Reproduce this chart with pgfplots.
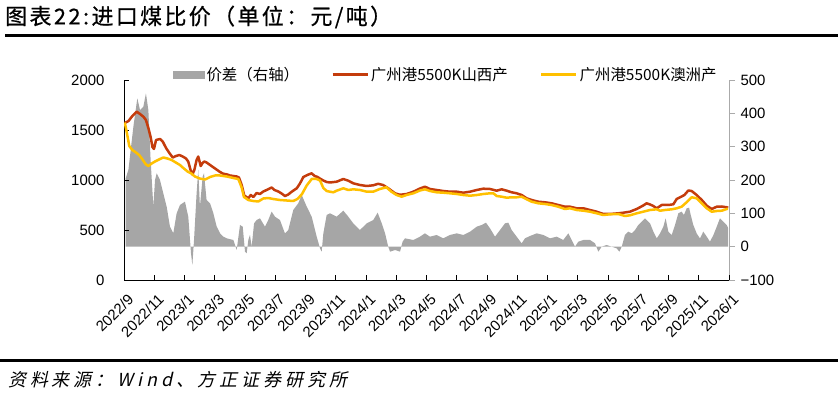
\documentclass[border=0pt]{standalone}
\usepackage{pgfplots}
\pgfplotsset{compat=1.18}
\usepackage{fontspec}
\setmainfont{Liberation Sans}
\newfontfamily\cjk{Noto Sans CJK SC}
\newfontfamily\cjktitle[FakeBold=0.6,LetterSpace=11]{Noto Sans CJK SC}
\newfontfamily\cjksl[FakeSlant=0.22,LetterSpace=22]{Noto Sans CJK SC}
\definecolor{redc}{RGB}{196,60,12}
\definecolor{yelc}{RGB}{255,192,0}
\definecolor{grayc}{RGB}{166,166,166}
\definecolor{axgray}{RGB}{170,170,170}
\begin{document}
\begin{tikzpicture}
\path[use as bounding box] (0,0) rectangle (838bp,398bp);
\node[anchor=west, inner sep=0] at (5bp,381bp) {\cjktitle\fontsize{22}{25}\selectfont 图表22:进口煤比价（单位：元/吨）};
\draw[line width=3.5bp] (5bp,362.5bp) -- (838bp,362.5bp);
\draw[line width=3.5bp] (0bp,37.5bp) -- (838bp,37.5bp);
\node[anchor=west, inner sep=0] at (8bp,18bp) {\cjksl\fontsize{18}{21}\selectfont 资料来源：Wind、方正证券研究所};

% right axis: price difference
\begin{axis}[at={(124bp,118bp)}, anchor=south west, scale only axis,
  width=605bp, height=200bp,
  xmin=0, xmax=40, ymin=-100, ymax=500,
  axis x line=none, axis y line*=right,
  ytick={-100,0,100,200,300,400,500},
  yticklabels={−100,0,100,200,300,400,500},
  tick align=outside, major tick length=6bp,
  y axis line style={draw=axgray, line width=0.8bp},
  ytick style={draw=axgray, line width=0.8bp},
  yticklabel style={font=\fontsize{15}{18}\selectfont, xshift=2bp},
]
\addplot[draw=none, fill=grayc] coordinates {
(0.10,0) (0.11,205) (0.29,230) (0.62,360) (0.88,445) (1.06,410) (1.28,420) (1.45,460) (1.61,410) (1.76,260) (1.94,120) (2.05,200) (2.16,220) (2.38,200) (2.60,160) (2.82,120) (3.04,60) (3.26,40) (3.48,100) (3.70,125) (4.03,135) (4.25,90) (4.43,-20) (4.52,-55) (4.63,20) (4.80,160) (4.91,230) (5.02,120) (5.20,210) (5.29,220) (5.46,140) (5.69,130) (5.91,100) (6.13,60) (6.35,40) (6.57,30) (6.79,25) (7.23,20) (7.45,-10) (7.67,65) (7.85,60) (8.00,-15) (8.11,-20) (8.22,20) (8.33,35) (8.44,0) (8.60,70) (8.77,80) (8.99,85) (9.32,60) (9.54,80) (9.76,105) (9.98,90) (10.31,80) (10.64,40) (10.86,50) (11.19,110) (11.52,130) (11.75,155) (12.08,120) (12.41,90) (12.74,30) (12.96,-5) (13.07,-15) (13.18,40) (13.40,95) (13.62,100) (14.06,90) (14.50,108) (14.83,90) (15.16,70) (15.60,50) (16.05,70) (16.48,80) (16.77,102) (17.04,70) (17.26,40) (17.47,0) (17.59,-15) (17.92,-10) (18.25,-15) (18.42,15) (18.58,25) (19.13,20) (19.57,30) (19.90,40) (20.23,30) (20.67,35) (21.11,25) (21.55,35) (22.00,40) (22.43,35) (22.88,45) (23.32,60) (23.65,65) (23.93,72) (24.20,55) (24.53,30) (24.86,50) (25.19,70) (25.41,72) (25.63,50) (25.96,30) (26.29,10) (26.51,25) (26.84,32) (27.29,40) (27.72,35) (28.17,25) (28.61,30) (29.04,20) (29.38,40) (29.60,20) (29.82,0) (30.04,15) (30.37,20) (30.81,20) (31.14,10) (31.36,-15) (31.58,0) (31.91,5) (32.24,0) (32.57,-5) (32.75,-15) (32.91,0) (33.12,35) (33.34,45) (33.57,40) (33.79,50) (34.00,65) (34.45,85) (34.78,70) (35.00,45) (35.22,25) (35.44,40) (35.66,60) (35.81,85) (35.99,45) (36.21,35) (36.43,65) (36.65,100) (36.87,105) (37.02,95) (37.20,115) (37.36,117) (37.47,95) (37.64,65) (37.86,40) (38.08,25) (38.30,45) (38.53,30) (38.74,15) (38.97,35) (39.19,60) (39.40,85) (39.62,75) (39.85,65) (39.95,55)
} \closedcycle;
\end{axis}

% left axis: prices
\begin{axis}[at={(124bp,118bp)}, anchor=south west, scale only axis,
  width=605bp, height=200bp,
  xmin=0, xmax=40, ymin=0, ymax=2000,
  axis x line*=bottom, axis y line*=left,
  xtick={0,2,...,40},
  xticklabels={2022/9,2022/11,2023/1,2023/3,2023/5,2023/7,2023/9,2023/11,2024/1,2024/3,2024/5,2024/7,2024/9,2024/11,2025/1,2025/3,2025/5,2025/7,2025/9,2025/11,2026/1},
  ytick={0,500,1000,1500,2000},
  tick align=inside, major tick length=5bp,
  axis line style={line width=0.9bp},
  tick style={black, line width=0.8bp},
  /pgf/number format/assume math mode=true,
  /pgf/number format/1000 sep={},
  xticklabel style={rotate=45, anchor=north east, inner sep=1bp, xshift=-6bp, yshift=-10bp, font=\fontsize{15}{17}\selectfont},
  yticklabel style={font=\fontsize{15}{18}\selectfont, xshift=-16bp},
  legend style={at={(0.532,1.027)}, anchor=center, draw=none, fill=none,
    font=\cjk\fontsize{15.5}{17}\selectfont, inner sep=0pt,
    /tikz/every even column/.append style={column sep=30bp}},
  legend columns=3,
]
\addlegendimage{legend image code/.code={\fill[grayc] (0bp,-3.5bp) rectangle (31bp,3.5bp);}}
\addlegendentry{价差（右轴）}
\addplot[redc, line width=2.5bp, line join=round,
  legend image code/.code={\draw[redc,line width=2.8bp] (0bp,0bp) -- (35bp,0bp);}] coordinates {
(0.05,1570) (0.30,1590) (0.55,1640) (0.84,1683) (1.06,1660) (1.30,1630) (1.45,1600) (1.61,1520) (1.76,1430) (1.88,1330) (1.98,1310) (2.12,1400) (2.38,1410) (2.56,1385) (2.78,1320) (3.00,1270) (3.22,1225) (3.44,1240) (3.66,1250) (3.88,1235) (4.10,1215) (4.25,1183) (4.40,1100) (4.52,1055) (4.65,1100) (4.80,1200) (4.91,1235) (5.07,1140) (5.20,1170) (5.31,1185) (5.46,1175) (5.69,1150) (6.02,1115) (6.35,1080) (6.57,1062) (6.79,1057) (7.01,1045) (7.23,1040) (7.45,1035) (7.60,1025) (7.78,950) (7.95,845) (8.22,817) (8.38,850) (8.55,830) (8.77,870) (8.99,860) (9.21,885) (9.43,900) (9.76,925) (9.95,900) (10.20,885) (10.42,865) (10.64,840) (10.86,855) (11.09,883) (11.42,917) (11.64,967) (11.86,1030) (12.12,1050) (12.41,1067) (12.60,1040) (12.80,1030) (13.00,1010) (13.18,995) (13.40,980) (13.62,975) (14.06,983) (14.50,1010) (14.83,993) (15.16,967) (15.60,950) (16.05,940) (16.48,947) (16.80,962) (17.13,950) (17.47,917) (17.92,867) (18.25,852) (18.68,860) (19.13,883) (19.57,915) (19.90,933) (20.23,910) (20.67,900) (21.11,890) (21.55,883) (22.00,883) (22.43,873) (22.88,883) (23.32,900) (23.76,913) (24.20,910) (24.64,893) (24.97,907) (25.30,893) (25.63,877) (25.96,867) (26.29,850) (26.62,817) (26.95,800) (27.39,783) (27.83,777) (28.27,767) (28.71,750) (29.15,733) (29.49,733) (29.93,717) (30.37,717) (30.81,700) (31.25,683) (31.69,660) (32.13,660) (32.68,667) (33.01,673) (33.45,683) (33.90,710) (34.33,745) (34.55,767) (34.78,755) (35.00,740) (35.22,717) (35.55,750) (35.99,750) (36.32,757) (36.54,810) (36.87,835) (37.05,850) (37.31,895) (37.53,890) (37.86,850) (38.20,800) (38.53,743) (38.86,710) (39.19,733) (39.52,735) (39.85,727) (39.95,723)
};
\addlegendentry{广州港5500K山西产}
\addplot[yelc, line width=2.5bp, line join=round,
  legend image code/.code={\draw[yelc,line width=2.8bp] (0bp,0bp) -- (35bp,0bp);}] coordinates {
(0.05,1575) (0.18,1480) (0.35,1340) (0.55,1300) (0.75,1280) (1.00,1250) (1.20,1210) (1.45,1155) (1.61,1140) (1.83,1165) (2.05,1185) (2.38,1210) (2.60,1225) (2.87,1215) (3.15,1200) (3.37,1180) (3.70,1150) (3.92,1120) (4.20,1085) (4.45,1065) (4.69,1035) (5.00,1015) (5.36,1005) (5.69,1030) (6.02,1045) (6.35,1045) (6.79,1035) (7.23,1020) (7.56,1010) (7.78,925) (7.93,830) (8.22,800) (8.55,790) (8.88,785) (9.21,815) (9.54,820) (9.87,810) (10.31,800) (10.76,795) (11.19,790) (11.46,810) (11.75,855) (12.08,945) (12.41,1010) (12.74,1010) (12.96,995) (13.18,920) (13.40,890) (13.62,883) (13.84,877) (14.06,893) (14.50,917) (14.83,900) (15.16,907) (15.60,900) (16.05,883) (16.48,883) (16.91,910) (17.35,927) (17.68,883) (18.02,850) (18.35,833) (18.68,850) (19.13,867) (19.57,895) (19.90,907) (20.23,890) (20.67,877) (21.11,873) (21.55,867) (22.00,860) (22.43,850) (22.88,843) (23.32,850) (23.76,860) (24.20,867) (24.42,867) (24.64,840) (24.97,833) (25.30,823) (25.63,827) (25.96,827) (26.29,833) (26.62,807) (26.95,783) (27.39,767) (27.83,760) (28.27,750) (28.71,733) (29.15,710) (29.49,717) (29.93,700) (30.37,693) (30.81,683) (31.25,667) (31.69,650) (32.13,657) (32.68,660) (33.12,640) (33.45,647) (33.90,667) (34.33,683) (34.78,700) (35.22,707) (35.44,693) (35.77,700) (36.21,707) (36.54,717) (36.87,733) (37.24,783) (37.53,827) (37.86,817) (38.20,767) (38.53,717) (38.86,683) (39.19,690) (39.52,693) (39.85,710) (39.95,710)
};
\addlegendentry{广州港5500K澳洲产}
\end{axis}
\end{tikzpicture}
\end{document}
